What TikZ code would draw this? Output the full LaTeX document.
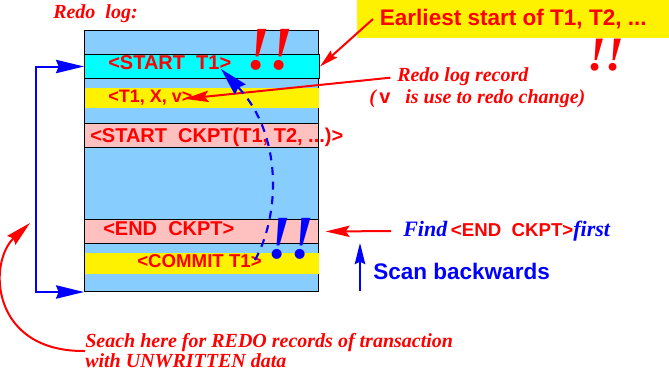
\documentclass[tikz,border=0pt]{standalone}
\usepackage{fontspec}
\setmainfont{Liberation Serif}
\setsansfont{Liberation Sans}
\usetikzlibrary{arrows.meta}

\definecolor{logblue}{RGB}{135,206,255}
\definecolor{ckptpink}{RGB}{255,192,192}
\definecolor{stcyan}{RGB}{0,255,255}

\tikzset{
  logarea/.style={draw=black, line width=0.75pt, fill=logblue, inner sep=0pt,
    anchor=north west, minimum width=175.5pt, minimum height=195.75pt},
  band/.style={inner sep=0pt, anchor=north west, minimum width=175.5pt, line width=0.75pt},
  rectext/.style={anchor=west, inner sep=0pt, text=red,
    font=\sffamily\bfseries\fontsize{15}{17}\selectfont},
  notetext/.style={anchor=west, inner sep=0pt, text=red,
    font=\bfseries\itshape\fontsize{15}{15}\selectfont},
  bang/.style={anchor=base, inner sep=0pt,
    font=\bfseries\itshape\fontsize{46}{46}\selectfont},
  redarrow/.style={draw=red, line width=1.5pt,
    -{Stealth[length=18pt,width=8.5pt,inset=3pt]}},
  bluearrow/.style={draw=blue, line width=1.5pt,
    -{Stealth[length=16pt,width=8pt,inset=2pt]}},
}

\begin{document}
\begin{tikzpicture}[x=0.75pt,y=-0.75pt]
\useasboundingbox (0,0) rectangle (669,372);

% Redo log area and its records
\node[logarea] (logbox) at (84,30) {};
\node[band, draw=black, fill=stcyan, minimum height=18pt, minimum width=176.25pt] (stband) at (84,54) {};
\node[band, fill=yellow, minimum height=15pt] (tvband) at (84,87) {};
\node[band, draw=black, fill=ckptpink, minimum height=18pt] (ckband) at (84,123) {};
\node[band, draw=black, fill=ckptpink, minimum height=18pt] (ekband) at (84,219) {};
\node[band, fill=yellow, minimum height=15.75pt] (cmband) at (84,252) {};

\node[notetext] (redolbl) at (53,14) {Redo\ \ log:};

\node[rectext] (st) at (108,63) {<START\ \ T1>};
\node[rectext, font=\sffamily\bfseries\fontsize{13.5}{15}\selectfont] (tv) at (108,98) {<T1, X, v>};
\node[rectext] (ck) at (90,137) {<START\ \ CKPT(T1, T2, ...)>};
\node[rectext] (ek) at (103,229) {<END\ \ CKPT>};
\node[rectext, font=\sffamily\bfseries\fontsize{14}{16}\selectfont] (cm) at (137,261.5) {<COMMIT T1>};

% Exclamation marks
\node[bang, text=red] (bangst) at (270,69) {!!};
\node[bang, text=red, font=\bfseries\itshape\fontsize{36}{36}\selectfont] (bangearly) at (606,70) {!!};
\node[bang, text=blue] (bangcm) at (291,258) {!!};

% Earliest start note
\node[fill=yellow, inner sep=0pt, anchor=north west, minimum width=234pt, minimum height=28.5pt,
  text=red, font=\sffamily\bfseries\fontsize{16.9}{18}\selectfont] (early) at (357,0)
  {Earliest start of T1, T2, ...};
\coordinate (earlyfoot) at (373,19);
\draw[redarrow, -{Stealth[length=14pt,width=7pt,inset=2pt]}] (earlyfoot) -- (stband.east);

% Redo log record note
\node[notetext] (recA) at (397,77) {Redo log record};
\node[notetext] (recB) at (369,99) {(\,{\sffamily\upshape v}\ \ \ is use to redo change)};
\draw[redarrow, shorten <=5pt, shorten >=-6pt] (recA.west) -- (tv.east);

% Find the checkpoint end first
\node[anchor=west, inner sep=0pt, text=blue, font=\bfseries\itshape\fontsize{16.5}{16}\selectfont] (find) at (403,231)
  {Find\,{\sffamily\upshape\fontsize{14}{16}\selectfont\color{red}<END\ \ CKPT>}first};
\draw[redarrow, shorten <=9pt, shorten >=5pt] (find.west) -- (ekband.east);

% Scan direction
\node[anchor=west, inner sep=0pt, text=blue, font=\sffamily\bfseries\fontsize{16.9}{18}\selectfont] (scan) at (373,271)
  {Scan backwards};
\coordinate (scanlow) at (360,291);
\coordinate (scanhigh) at (360,243);
\draw[bluearrow, line width=1pt] (scanlow) -- (scanhigh);

% Dashed link from commit back to start
\coordinate (dashfrom) at (255,260);
\coordinate (dashto) at (221,69);
\draw[bluearrow, dash pattern=on 6pt off 5pt, line width=1.6pt,
  -{Stealth[length=21pt,width=11pt,inset=2pt]}]
  (dashfrom) .. controls (280,215) and (283,135) .. (dashto);

% Bracket over the part to search
\draw[draw=blue, line width=1.5pt,
  {Stealth[length=21pt,width=10pt,inset=2pt]}-{Stealth[length=21pt,width=10pt,inset=2pt]}]
  (stband.west) -- ++(-48,0) |- (logbox.south west);

% Search note
\node[notetext, align=left] (seach) at (85,351)
  {Seach here for REDO records of transaction\\with UNWRITTEN data};
\coordinate (seachtip) at (30,223);
\draw[redarrow, -{Stealth[length=19pt,width=9pt,inset=2pt]}]
  (seach.west) .. controls (-10,352) and (-12,262) .. (seachtip);

\end{tikzpicture}
\end{document}
